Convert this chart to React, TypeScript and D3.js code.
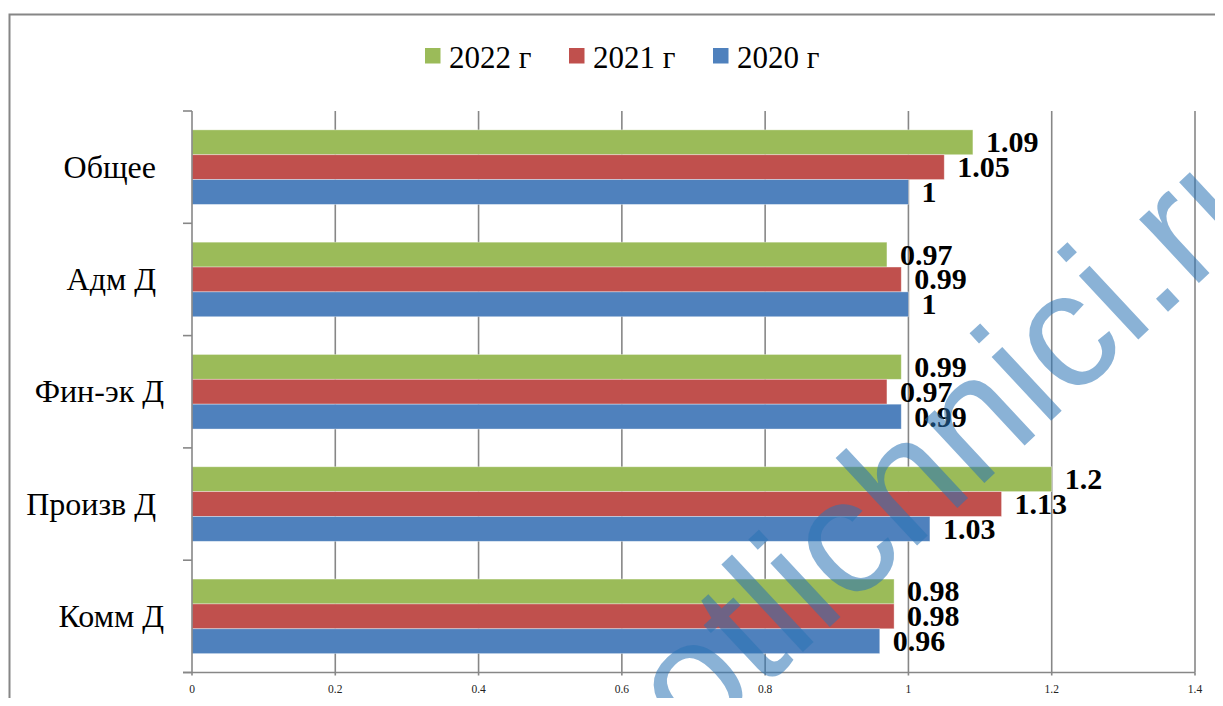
import React from 'react';
import * as d3 from 'd3';

// категории сверху вниз
const categories = ['Общее ', 'Адм Д ', 'Фин-эк Д', 'Произв Д ', 'Комм Д'];
const seriesNames = ['2022 г', '2021 г', '2020 г'];
const seriesColors = ['#9BBB59', '#C0504D', '#4F81BD'];

const values2022 = [1.09, 0.97, 0.99, 1.2, 0.98];
const values2021 = [1.05, 0.99, 0.97, 1.13, 0.98];
const values2020 = [1, 1, 0.99, 1.03, 0.96];
const seriesValues = [values2022, values2021, values2020];

const xTicks = [0, 0.2, 0.4, 0.6, 0.8, 1, 1.2, 1.4];

const W = 1223;
const H = 706;
const serif = "'Liberation Serif', 'DejaVu Serif', serif";
const gridColor = '#878787';

export default function App() {
    const plot = { left: 192, right: 1195, top: 111, bottom: 672.5 };

    // x axis scale
    const x = d3.scaleLinear().domain([0, 1.4]).range([plot.left, plot.right]);

    // category bands
    const y0 = d3.scaleBand<number>()
        .domain(d3.range(categories.length))
        .range([plot.top, plot.bottom])
        .padding(0);

    const gap = y0.bandwidth() * 0.168;
    const y1 = d3.scaleBand<number>()
        .domain(d3.range(seriesNames.length))
        .range([gap, y0.bandwidth() - gap])
        .padding(0);

    const boundaries = d3.range(categories.length + 1).map(i => plot.top + i * y0.step());

    return (
        <div style={{ margin: -8, width: W, height: H, overflow: 'hidden' }}>
            <svg width={W} height={H} style={{ display: 'block', background: '#fff' }}>
                {/* рамка диаграммы */}
                <rect x={9.5} y={14.5} width={1211} height={720} fill="#fff" stroke="#868686" strokeWidth={2} />

                {/* легенда */}
                <g style={{ fontFamily: serif, fontSize: 31 }} fill="#000">
                    {seriesNames.map((name, i) => (
                        <g key={name} transform={`translate(${425 + i * 144},0)`}>
                            <rect x={0} y={48} width={15.5} height={15.5} fill={seriesColors[i]} />
                            <text x={24} y={67.5}>{name}</text>
                        </g>
                    ))}
                </g>

                {/* сетка */}
                {xTicks.slice(1).map(t => (
                    <line key={t} x1={x(t)} x2={x(t)} y1={plot.top} y2={plot.bottom}
                          stroke={gridColor} strokeWidth={1.6} />
                ))}

                {/* столбцы */}
                {categories.map((c, ci) => (
                    <g key={c} transform={`translate(0,${y0(ci)})`}>
                        {seriesValues.map((vals, si) => (
                            <rect key={si}
                                  x={x(0)}
                                  y={y1(si)}
                                  width={x(vals[ci]) - x(0)}
                                  height={y1.bandwidth()}
                                  fill={seriesColors[si]}
                                  stroke="#fff" strokeOpacity={0.45} strokeWidth={0.8} />
                        ))}
                    </g>
                ))}

                {/* оси */}
                <line x1={plot.left} x2={plot.left} y1={plot.top} y2={plot.bottom} stroke={gridColor} strokeWidth={1.6} />
                {boundaries.map((b, i) => (
                    <line key={i} x1={plot.left - 9} x2={plot.left} y1={b} y2={b} stroke={gridColor} strokeWidth={1.6} />
                ))}
                <line x1={plot.left - 9} x2={plot.right} y1={plot.bottom} y2={plot.bottom} stroke={gridColor} strokeWidth={1.6} />
                {xTicks.map(t => (
                    <g key={t}>
                        <line x1={x(t)} x2={x(t)} y1={plot.bottom} y2={plot.bottom + 3} stroke={gridColor} strokeWidth={1.6} />
                        <text x={x(t)} y={693} textAnchor="middle" style={{ fontFamily: serif, fontSize: 11.5 }} fill="#222">
                            {t}
                        </text>
                    </g>
                ))}

                {/* подписи категорий */}
                <g style={{ fontFamily: serif, fontSize: 32 }} fill="#000">
                    {categories.map((c, ci) => (
                        <text key={c} x={164} y={y0(ci)! + y0.bandwidth() / 2 + 10.5}
                              textAnchor="end" style={{ whiteSpace: 'pre' }}>
                            {c}
                        </text>
                    ))}
                </g>

                {/* подписи значений */}
                <g style={{ fontFamily: serif, fontSize: 30, fontWeight: 'bold' }} fill="#000">
                    {categories.map((c, ci) => seriesValues.map((vals, si) => (
                        <text key={c + si}
                              x={x(vals[ci]) + 13}
                              y={y0(ci)! + y1(si)! + y1.bandwidth() / 2 + 10}>
                            {vals[ci]}
                        </text>
                    )))}
                </g>

                {/* водяной знак */}
                <text x={996} y={472} textAnchor="middle"
                      transform="rotate(-43 996 472)"
                      style={{ fontFamily: "'Liberation Sans', Arial, sans-serif", fontSize: 165 }}
                      fill="#2a72b5" fillOpacity={0.55}>
                    otlichnici.ru
                </text>
            </svg>
        </div>
    );
}
